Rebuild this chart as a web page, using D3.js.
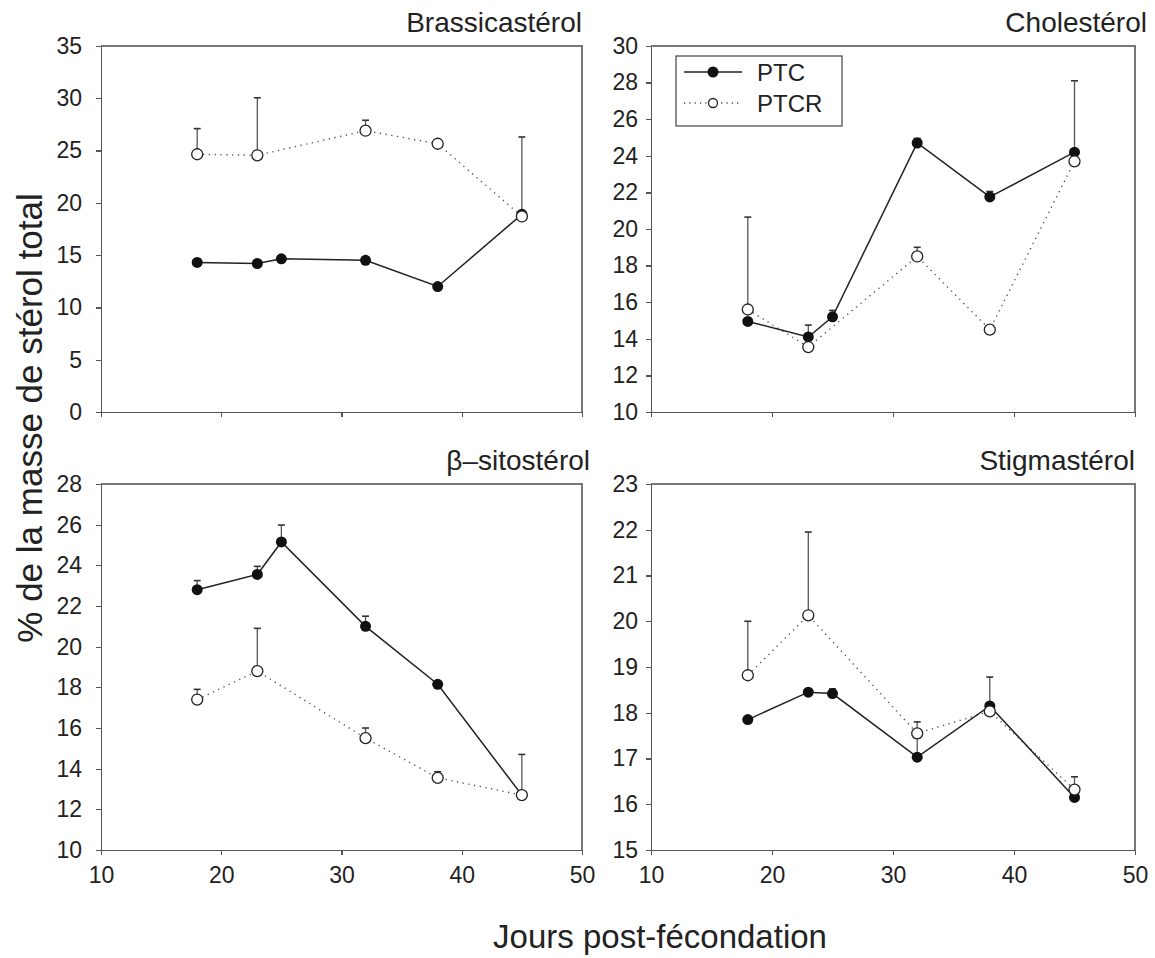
<!DOCTYPE html>
<html lang="fr">
<head>
<meta charset="utf-8">
<title>Stérols</title>
<script src="https://d3js.org/d3.v7.min.js"></script>
<style>
body { margin: 0; background: #fff; }
svg text { font-family: "Liberation Sans", Arial, sans-serif; fill: #222; }
.axis path, .axis line { stroke: #555; stroke-width: 1.3; shape-rendering: crispEdges; }
.axis text { font-size: 23px; fill: #222; }
</style>
</head>
<body>
<svg id="chart" width="1155" height="958"></svg>
<script>
// jours post-fécondation
var days = [18, 23, 25, 32, 38, 45];
var daysR = [18, 23, 32, 38, 45];
var xTicks = [10, 20, 30, 40, 50];

// Brassicastérol
var brassPTC = [14.3, 14.2, 14.65, 14.5, 12.0, 18.9];
var brassPTCErr = [null, null, null, null, null, 26.3];
var brassPTCR = [24.65, 24.55, 26.9, 25.65, 18.7];
var brassPTCRErr = [27.1, 30.05, 27.9, 25.8, null];
var brassTicks = [0, 5, 10, 15, 20, 25, 30, 35];

// Cholestérol
var cholPTC = [14.95, 14.1, 15.2, 24.7, 21.75, 24.2];
var cholPTCErr = [null, 14.75, 15.55, 24.95, 22.05, 28.1];
var cholPTCR = [15.6, 13.55, 18.5, 14.5, 23.7];
var cholPTCRErr = [20.65, null, 19.0, null, null];
var cholTicks = [10, 12, 14, 16, 18, 20, 22, 24, 26, 28, 30];

// β-sitostérol
var sitoPTC = [22.8, 23.55, 25.15, 21.0, 18.15, 12.7];
var sitoPTCErr = [23.25, 23.95, 25.98, 21.5, null, null];
var sitoPTCR = [17.4, 18.8, 15.5, 13.55, 12.7];
var sitoPTCRErr = [17.9, 20.9, 16.0, 13.85, 14.7];
var sitoTicks = [10, 12, 14, 16, 18, 20, 22, 24, 26, 28];

// Stigmastérol
var stigPTC = [17.85, 18.45, 18.42, 17.03, 18.15, 16.15];
var stigPTCErr = [null, null, 18.52, 17.45, 18.78, null];
var stigPTCR = [18.82, 20.13, 17.55, 18.03, 16.32];
var stigPTCRErr = [20.0, 21.95, 17.8, null, 16.6];
var stigTicks = [15, 16, 17, 18, 19, 20, 21, 22, 23];

var panels = [
  { title: 'Brassicastérol', x0: 101, y0: 46, w: 481, tdx: 0, ptc: brassPTC, ptcErr: brassPTCErr, ptcr: brassPTCR, ptcrErr: brassPTCRErr, ticks: brassTicks, xlabels: false, pad: 14 },
  { title: 'Cholestérol', x0: 651, y0: 46, w: 484, tdx: 12, ptc: cholPTC, ptcErr: cholPTCErr, ptcr: cholPTCR, ptcrErr: cholPTCRErr, ticks: cholTicks, xlabels: false, legend: true, pad: 8 },
  { title: 'β–sitostérol', x0: 101, y0: 484, w: 481, tdx: 8, ptc: sitoPTC, ptcErr: sitoPTCErr, ptcr: sitoPTCR, ptcrErr: sitoPTCRErr, ticks: sitoTicks, xlabels: true, pad: 14 },
  { title: 'Stigmastérol', x0: 651, y0: 484, w: 484, tdx: 0, ptc: stigPTC, ptcErr: stigPTCErr, ptcr: stigPTCR, ptcrErr: stigPTCRErr, ticks: stigTicks, xlabels: true, pad: 8 }
];

var svg = d3.select('#chart');
var h = 366, r = 5.5;

panels.forEach(function(p) {
  var g = svg.append('g').attr('transform', 'translate(' + p.x0 + ',' + p.y0 + ')');
  var x = d3.scaleLinear().domain([10, 50]).range([0, p.w]);
  var y = d3.scaleLinear().domain(d3.extent(p.ticks)).range([h, 0]);

  // cadre haut/droite
  g.append('path')
    .attr('d', 'M0,0H' + p.w + 'V' + h)
    .attr('fill', 'none').attr('stroke', '#777').attr('stroke-width', 1.2)
    .attr('shape-rendering', 'crispEdges');

  g.append('g').attr('class', 'axis')
    .call(d3.axisLeft(y).tickValues(p.ticks).tickSize(5).tickSizeOuter(0).tickPadding(p.pad));

  var xa = g.append('g').attr('class', 'axis')
    .attr('transform', 'translate(0,' + h + ')')
    .call(d3.axisBottom(x).tickValues(xTicks).tickSize(5).tickSizeOuter(0).tickPadding(12));
  if (!p.xlabels) xa.selectAll('text').remove();

  g.append('text')
    .attr('x', p.w + p.tdx).attr('y', -14)
    .attr('text-anchor', 'end')
    .attr('font-size', 28)
    .text(p.title);

  var ptc = days.map(function(d, i) { return { d: d, v: p.ptc[i], e: p.ptcErr[i] }; });
  var ptcr = daysR.map(function(d, i) { return { d: d, v: p.ptcr[i], e: p.ptcrErr[i] }; });

  // barres d'erreur (haut seulement)
  [ptc, ptcr].forEach(function(s) {
    var eb = g.selectAll(null).data(s.filter(function(o) { return o.e != null; })).enter();
    eb.append('line')
      .attr('x1', function(o) { return x(o.d); }).attr('x2', function(o) { return x(o.d); })
      .attr('y1', function(o) { return y(o.v); }).attr('y2', function(o) { return y(o.e); })
      .attr('stroke', '#555').attr('stroke-width', 1.3);
    eb.append('line')
      .attr('x1', function(o) { return x(o.d) - 3.5; }).attr('x2', function(o) { return x(o.d) + 3.5; })
      .attr('y1', function(o) { return y(o.e); }).attr('y2', function(o) { return y(o.e); })
      .attr('stroke', '#333').attr('stroke-width', 1.6);
  });

  var line = d3.line().x(function(o) { return x(o.d); }).y(function(o) { return y(o.v); });

  g.append('path').datum(ptcr).attr('d', line)
    .attr('fill', 'none').attr('stroke', '#555').attr('stroke-width', 1.4)
    .attr('stroke-dasharray', '1.3,4.5');
  g.append('path').datum(ptc).attr('d', line)
    .attr('fill', 'none').attr('stroke', '#222').attr('stroke-width', 1.5);

  g.selectAll(null).data(ptc).enter().append('circle')
    .attr('cx', function(o) { return x(o.d); }).attr('cy', function(o) { return y(o.v); })
    .attr('r', r).attr('fill', '#111');
  g.selectAll(null).data(ptcr).enter().append('circle')
    .attr('cx', function(o) { return x(o.d); }).attr('cy', function(o) { return y(o.v); })
    .attr('r', r).attr('fill', '#fff').attr('stroke', '#222').attr('stroke-width', 1.3);

  if (p.legend) {
    var lg = svg.append('g').attr('transform', 'translate(676,56)');
    lg.append('rect').attr('width', 166).attr('height', 70)
      .attr('fill', '#fff').attr('stroke', '#444').attr('stroke-width', 1.2);
    lg.append('line').attr('x1', 8).attr('x2', 66).attr('y1', 16).attr('y2', 16)
      .attr('stroke', '#222').attr('stroke-width', 1.5);
    lg.append('circle').attr('cx', 37).attr('cy', 16).attr('r', r).attr('fill', '#111');
    lg.append('line').attr('x1', 8).attr('x2', 66).attr('y1', 47).attr('y2', 47)
      .attr('stroke', '#555').attr('stroke-width', 1.3).attr('stroke-dasharray', '1.3,4');
    lg.append('circle').attr('cx', 37).attr('cy', 47).attr('r', 4.5)
      .attr('fill', '#fff').attr('stroke', '#222').attr('stroke-width', 1.3);
    lg.append('text').attr('x', 81).attr('y', 25).attr('font-size', 24).text('PTC');
    lg.append('text').attr('x', 81).attr('y', 56).attr('font-size', 24).text('PTCR');
  }
});

svg.append('text')
  .attr('transform', 'translate(42,418) rotate(-90)')
  .attr('text-anchor', 'middle')
  .attr('font-size', 35)
  .text('% de la masse de stérol total');

svg.append('text')
  .attr('x', 660).attr('y', 948)
  .attr('text-anchor', 'middle')
  .attr('font-size', 33)
  .text('Jours post-fécondation');
</script>
</body>
</html>
